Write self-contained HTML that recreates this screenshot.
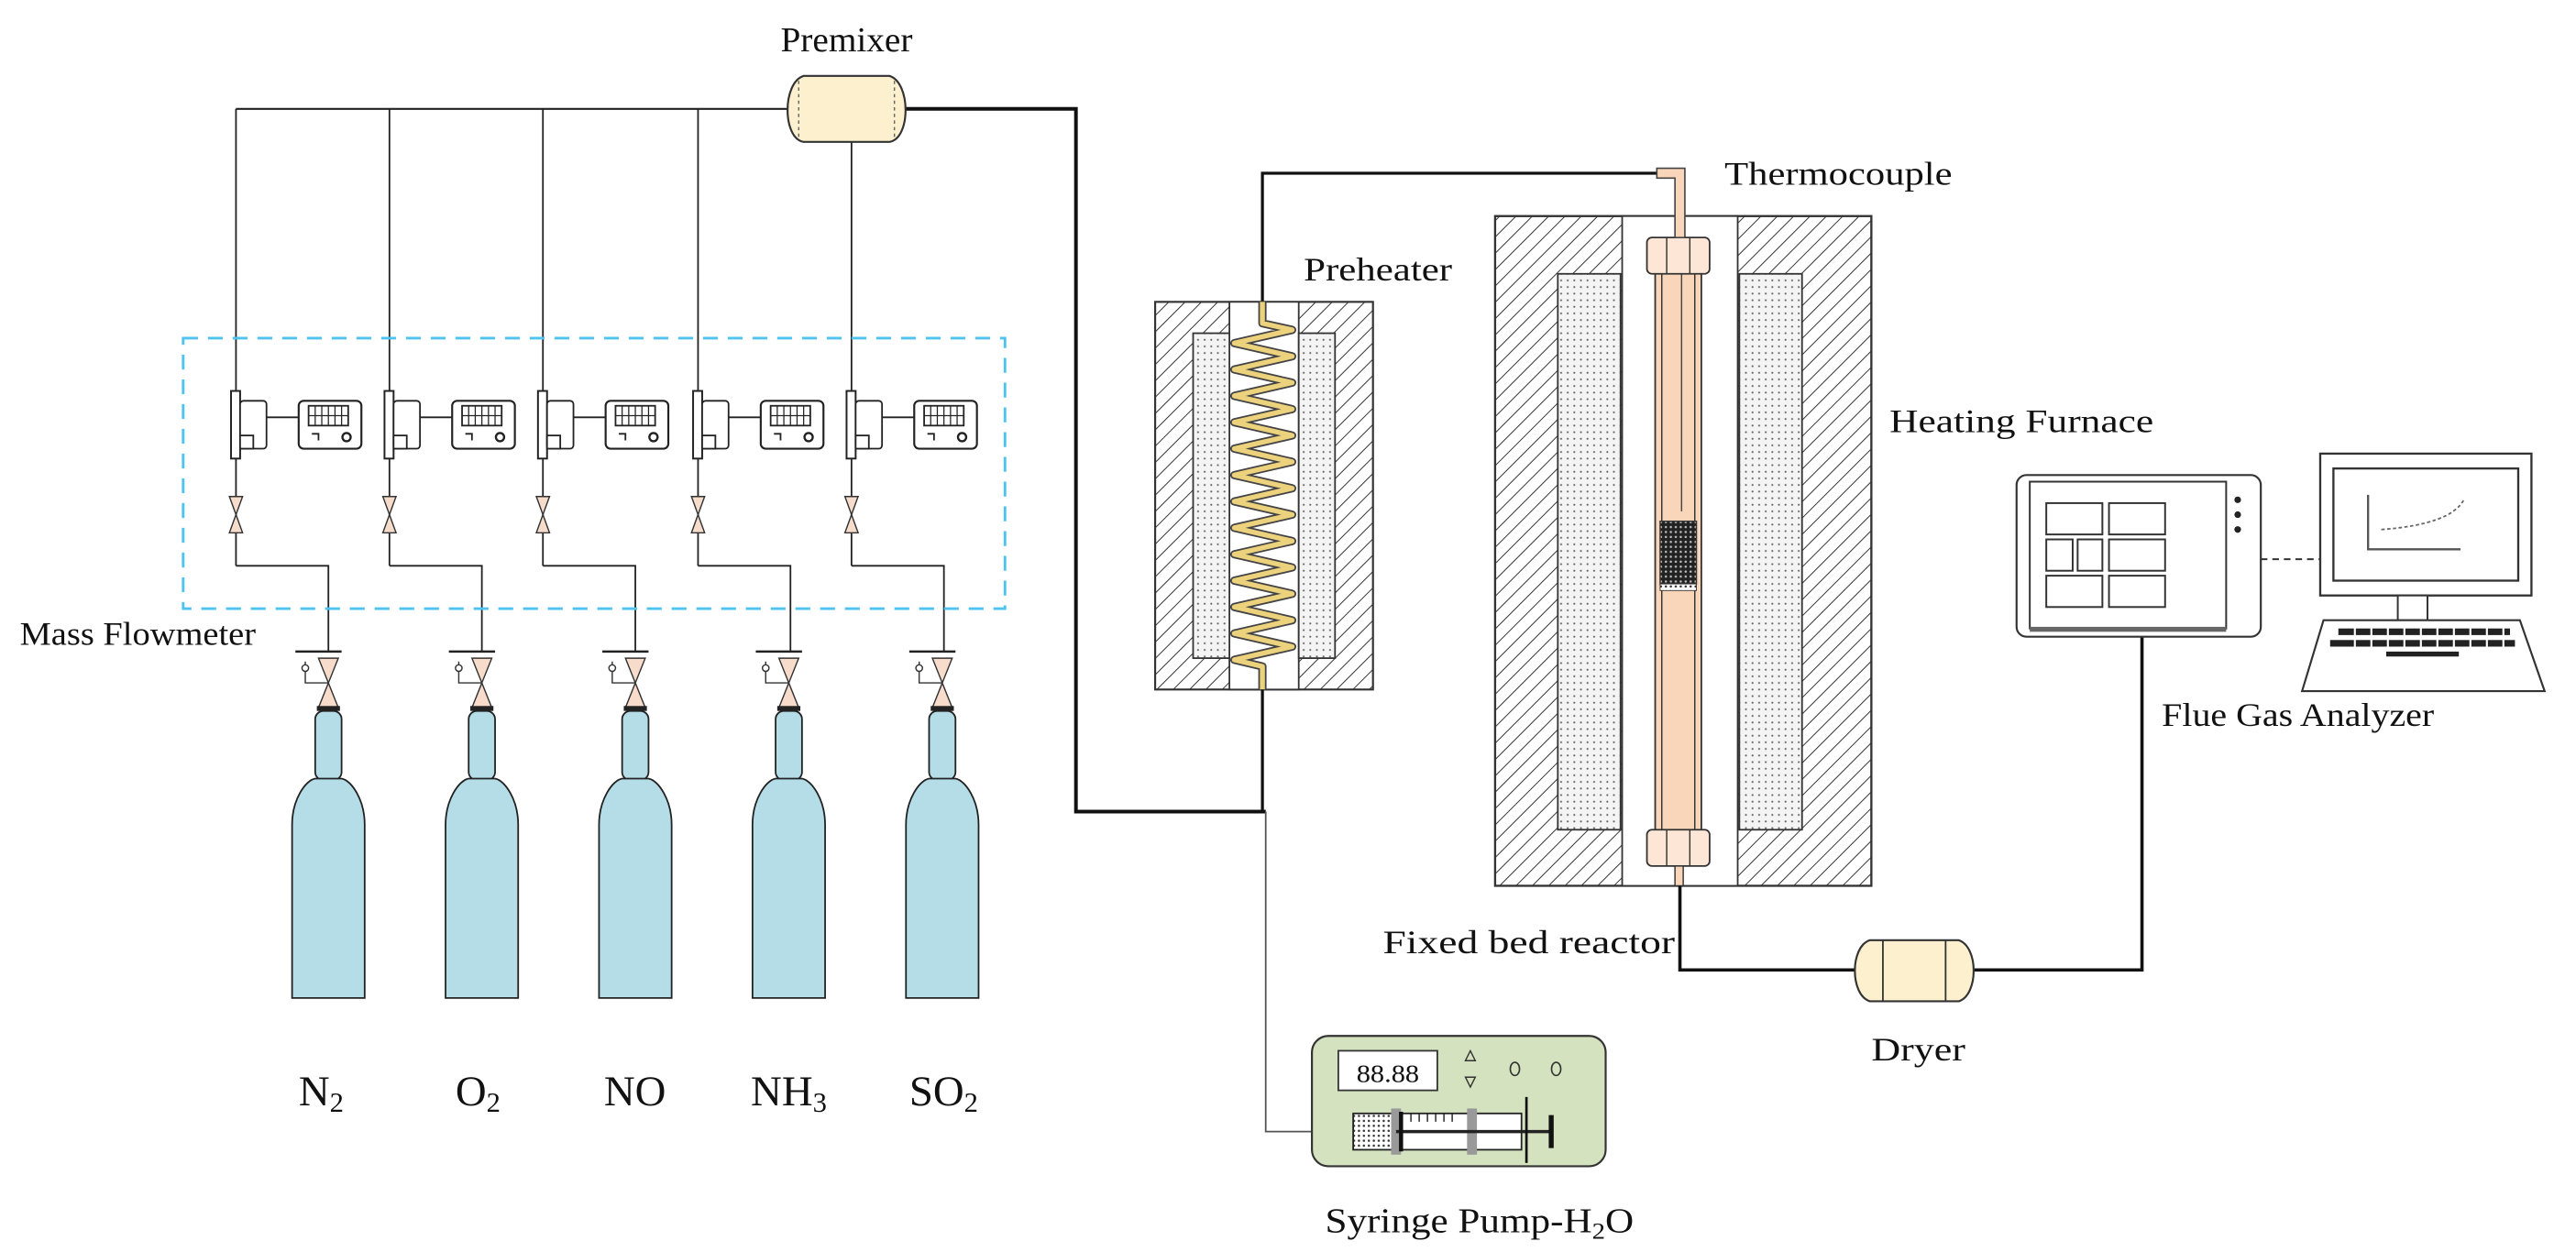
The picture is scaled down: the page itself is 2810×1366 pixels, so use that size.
<!DOCTYPE html>
<html><head><meta charset="utf-8"><style>
html,body{margin:0;padding:0;background:#fff;}
svg{display:block}
text{font-family:"Liberation Serif",serif;fill:#111;}
</style></head><body>
<svg width="2810" height="1366" viewBox="0 0 1561 759" preserveAspectRatio="none" xmlns="http://www.w3.org/2000/svg">
<defs>
<pattern id="hatch" width="7" height="7" patternUnits="userSpaceOnUse" patternTransform="rotate(45)">
<rect width="7" height="7" fill="#fff"/><line x1="0" y1="0" x2="0" y2="7" stroke="#333" stroke-width="1.1"/>
</pattern>
<pattern id="dots" width="4" height="4" patternUnits="userSpaceOnUse">
<rect width="4" height="4" fill="#f4f4f4"/><circle cx="2" cy="2" r="0.6" fill="#666"/>
</pattern>
<pattern id="cat" width="3" height="3" patternUnits="userSpaceOnUse">
<rect width="3" height="3" fill="#222"/><circle cx="1.5" cy="1.5" r="0.7" fill="#bbb"/>
</pattern>
<pattern id="sdots" width="3" height="3" patternUnits="userSpaceOnUse">
<rect width="3" height="3" fill="#fff"/><circle cx="1.5" cy="1.5" r="0.7" fill="#333"/>
</pattern>
<g id="mfc">
<line x1="0" y1="66" x2="0" y2="237" stroke="#222" stroke-width="1"/>
<rect x="-3" y="237" width="5.5" height="41" fill="#fff" stroke="#222" stroke-width="1.1"/>
<rect x="2.5" y="243" width="16" height="29" rx="2" fill="#fff" stroke="#222" stroke-width="1"/>
<rect x="2.5" y="264" width="8" height="8" fill="#fff" stroke="#222" stroke-width="1"/>
<line x1="18.5" y1="253" x2="38" y2="253" stroke="#222" stroke-width="1"/>
<rect x="38" y="243" width="38" height="29" rx="3" fill="#fff" stroke="#222" stroke-width="1.2"/>
<rect x="44" y="246" width="24" height="12" fill="#fff" stroke="#222" stroke-width="1"/>
<path d="M48 246v12M52 246v12M56 246v12M60 246v12M64 246v12M44 252h24" stroke="#222" stroke-width="0.7"/>
<path d="M46 263h4v4" stroke="#222" stroke-width="1" fill="none"/>
<circle cx="67" cy="265" r="2.5" fill="none" stroke="#222" stroke-width="1.3"/>
<line x1="0" y1="278" x2="0" y2="343" stroke="#222" stroke-width="1"/>
<path d="M-4 301h8l-4 11zM-4 323h8l-4 -11z" fill="#f5dccb" stroke="#333" stroke-width="0.8"/>
<path d="M0 343H56V395" stroke="#222" stroke-width="1" fill="none"/>
</g>
<g id="cyl">
<line x1="-20" y1="395" x2="8" y2="395" stroke="#222" stroke-width="1.4"/>
<path d="M-6 399h12l-6 15zM-6 429h12l-6 -15z" fill="#f7dccc" stroke="#333" stroke-width="0.8"/>
<path d="M0 414H-14V401" stroke="#333" stroke-width="0.8" fill="none"/>
<circle cx="-14" cy="405" r="2" fill="#fff" stroke="#333" stroke-width="0.8"/>
<rect x="-7" y="428" width="14" height="3" fill="#222"/>
<rect x="-8" y="431" width="16" height="42" rx="5" fill="#b5dde8" stroke="#222" stroke-width="1"/>
<path d="M-22 605V500C-22 485 -14 473 -8 472H8C14 473 22 485 22 500V605Z" fill="#b5dde8" stroke="#222" stroke-width="1"/>
</g>
</defs>

<line x1="143" y1="66" x2="480" y2="66" stroke="#222" stroke-width="1.2"/>
<path d="M546 66H652V492H767" stroke="#111" stroke-width="2.2" fill="none"/>
<use href="#mfc" x="143" y="0"/>
<use href="#mfc" x="236" y="0"/>
<use href="#mfc" x="329" y="0"/>
<use href="#mfc" x="423" y="0"/>
<use href="#mfc" x="516" y="0"/>
<path d="M487 46H539C552 50 552 84 539 86H487C474 84 474 50 487 46Z" fill="#fdf0cf" stroke="#333" stroke-width="1.2"/>
<line x1="484" y1="49" x2="484" y2="83" stroke="#666" stroke-width="0.8" stroke-dasharray="2,2"/>
<line x1="542" y1="49" x2="542" y2="83" stroke="#666" stroke-width="0.8" stroke-dasharray="2,2"/>
<text x="473" y="31" font-size="21" textLength="80" lengthAdjust="spacingAndGlyphs">Premixer</text>

<rect x="111" y="205" width="498" height="164" fill="none" stroke="#4fc3f0" stroke-width="1.6" stroke-dasharray="9,6"/>
<text x="12" y="391" font-size="20" textLength="143" lengthAdjust="spacingAndGlyphs">Mass Flowmeter</text>

<use href="#cyl" x="199"/><use href="#cyl" x="292"/><use href="#cyl" x="385"/><use href="#cyl" x="478"/><use href="#cyl" x="571"/>
<g font-size="26">
<text x="181" y="670">N<tspan font-size="17" dy="4">2</tspan></text>
<text x="276" y="670">O<tspan font-size="17" dy="4">2</tspan></text>
<text x="366" y="670">NO</text>
<text x="455" y="670">NH<tspan font-size="17" dy="4">3</tspan></text>
<text x="551" y="670">SO<tspan font-size="17" dy="4">2</tspan></text>
</g>

<path d="M765 183V105H1005" stroke="#111" stroke-width="1.8" fill="none"/>
<rect x="700" y="183" width="132" height="235" fill="url(#hatch)" stroke="#333" stroke-width="1.2"/>
<rect x="745" y="183" width="42" height="235" fill="#fff" stroke="#333" stroke-width="1"/>
<rect x="723" y="202" width="22" height="197" fill="url(#dots)" stroke="#333" stroke-width="1"/>
<rect x="787" y="202" width="22" height="197" fill="url(#dots)" stroke="#333" stroke-width="1"/>
<path d="M765 183V196 L783 200 L748 208 L783 216 L748 224 L783 232 L748 240 L783 248 L748 256 L783 264 L748 272 L783 280 L748 288 L783 296 L748 304 L783 312 L748 320 L783 328 L748 336 L783 344 L748 352 L783 360 L748 368 L783 376 L748 384 L783 392 L748 400 L765 404V418" stroke="#444" stroke-width="5" fill="none" stroke-linejoin="round"/>
<path d="M765 183V196 L783 200 L748 208 L783 216 L748 224 L783 232 L748 240 L783 248 L748 256 L783 264 L748 272 L783 280 L748 288 L783 296 L748 304 L783 312 L748 320 L783 328 L748 336 L783 344 L748 352 L783 360 L748 368 L783 376 L748 384 L783 392 L748 400 L765 404V418" stroke="#ecd27c" stroke-width="3" fill="none" stroke-linejoin="round"/>
<line x1="765" y1="418" x2="765" y2="492" stroke="#111" stroke-width="1.8"/>
<path d="M767 492V686H820" stroke="#555" stroke-width="1" fill="none"/>
<text x="790" y="170" font-size="20" textLength="90" lengthAdjust="spacingAndGlyphs">Preheater</text>

<rect x="906" y="131" width="228" height="406" fill="url(#hatch)" stroke="#333" stroke-width="1.3"/>
<rect x="983" y="131" width="70" height="406" fill="#fff" stroke="#333" stroke-width="1"/>
<rect x="944" y="166" width="38" height="337" fill="url(#dots)" stroke="#333" stroke-width="1"/>
<rect x="1054" y="166" width="38" height="337" fill="url(#dots)" stroke="#333" stroke-width="1"/>
<rect x="1003" y="164" width="28" height="341" fill="#f9d5b9" stroke="#333" stroke-width="1"/>
<line x1="1007" y1="164" x2="1007" y2="505" stroke="#333" stroke-width="0.8"/>
<line x1="1027" y1="164" x2="1027" y2="505" stroke="#333" stroke-width="0.8"/>
<line x1="1019" y1="140" x2="1019" y2="310" stroke="#444" stroke-width="0.8"/>
<rect x="1006" y="316" width="22" height="38" fill="url(#cat)" stroke="#333" stroke-width="0.8"/>
<rect x="1006" y="354" width="22" height="4" fill="url(#sdots)" stroke="#333" stroke-width="0.5"/>
<rect x="998" y="144" width="38" height="22" rx="3" fill="#fde6d6" stroke="#333" stroke-width="1"/>
<line x1="1010" y1="144" x2="1010" y2="166" stroke="#333" stroke-width="0.8"/>
<line x1="1024" y1="144" x2="1024" y2="166" stroke="#333" stroke-width="0.8"/>
<rect x="998" y="503" width="38" height="22" rx="3" fill="#fde6d6" stroke="#333" stroke-width="1"/>
<line x1="1010" y1="503" x2="1010" y2="525" stroke="#333" stroke-width="0.8"/>
<line x1="1024" y1="503" x2="1024" y2="525" stroke="#333" stroke-width="0.8"/>
<rect x="1015" y="525" width="5" height="12" fill="#f9d5b9" stroke="#333" stroke-width="0.8"/>
<path d="M1004 102H1021V144H1015V108H1004Z" fill="#f9d5b9" stroke="#444" stroke-width="0.9"/>
<text x="1045" y="112" font-size="20" textLength="138" lengthAdjust="spacingAndGlyphs">Thermocouple</text>
<text x="1145" y="262" font-size="20" textLength="160" lengthAdjust="spacingAndGlyphs">Heating Furnace</text>
<text x="838" y="578" font-size="20" textLength="177" lengthAdjust="spacingAndGlyphs">Fixed bed reactor</text>

<path d="M1018 537V588H1125M1195 588H1298V386" stroke="#111" stroke-width="2" fill="none"/>
<path d="M1133 570H1187C1199 574 1199 603 1187 607H1133C1121 603 1121 574 1133 570Z" fill="#fdf0cf" stroke="#333" stroke-width="1.2"/>
<line x1="1141" y1="570" x2="1141" y2="607" stroke="#333" stroke-width="1"/>
<line x1="1179" y1="570" x2="1179" y2="607" stroke="#333" stroke-width="1"/>
<text x="1134" y="643" font-size="20" textLength="57" lengthAdjust="spacingAndGlyphs">Dryer</text>

<rect x="1222" y="288" width="148" height="98" rx="6" fill="#fff" stroke="#333" stroke-width="1.2"/>
<rect x="1230" y="292" width="119" height="89" fill="#fff" stroke="#333" stroke-width="1.1"/>
<rect x="1230" y="380" width="119" height="3" fill="#666"/>
<g fill="none" stroke="#333" stroke-width="1.1">
<rect x="1240" y="305" width="34" height="19"/><rect x="1278" y="305" width="34" height="19"/>
<rect x="1240" y="327" width="16" height="19"/><rect x="1259" y="327" width="15" height="19"/><rect x="1278" y="327" width="34" height="19"/>
<rect x="1240" y="349" width="34" height="19"/><rect x="1278" y="349" width="34" height="19"/>
</g>
<circle cx="1356" cy="303" r="2" fill="#222"/><circle cx="1356" cy="312" r="2" fill="#222"/><circle cx="1356" cy="321" r="2" fill="#222"/>
<line x1="1370" y1="339" x2="1406" y2="339" stroke="#333" stroke-width="1.1" stroke-dasharray="4,3"/>
<rect x="1406" y="275" width="128" height="86" fill="#fff" stroke="#333" stroke-width="1.3"/>
<rect x="1414" y="284" width="112" height="68" fill="#fff" stroke="#333" stroke-width="1.3"/>
<path d="M1435 300V333H1491" stroke="#555" stroke-width="1.3" fill="none"/>
<path d="M1443 321Q1485 318 1493 303" stroke="#666" stroke-width="1" stroke-dasharray="2,1.5" fill="none"/>
<rect x="1453" y="361" width="18" height="15" fill="#fff" stroke="#333" stroke-width="1.1"/>
<path d="M1408 376H1527L1542 419H1395Z" fill="#fff" stroke="#333" stroke-width="1.2"/>
<g fill="#222">
<rect x="1417" y="381" width="104" height="4" />
<rect x="1412" y="388" width="112" height="4"/>
<rect x="1446" y="395" width="44" height="3"/>
</g>
<g stroke="#fff" stroke-width="1.2">
<path d="M1427 380v13M1437 380v13M1447 380v13M1457 380v13M1467 380v13M1477 380v13M1487 380v13M1497 380v13M1507 380v13M1517 380v13"/>
</g>
<text x="1310" y="440" font-size="20" textLength="165" lengthAdjust="spacingAndGlyphs">Flue Gas Analyzer</text>

<rect x="795" y="628" width="178" height="79" rx="10" fill="#d5e2bf" stroke="#333" stroke-width="1.2"/>
<rect x="811" y="637" width="60" height="24" fill="#fff" stroke="#333" stroke-width="1"/>
<text x="822" y="656" font-size="15" textLength="38" lengthAdjust="spacingAndGlyphs">88.88</text>
<path d="M888 643h6l-3 -6zM888 653h6l-3 6z" fill="none" stroke="#333" stroke-width="0.8"/>
<ellipse cx="918" cy="648" rx="2.8" ry="4" fill="none" stroke="#333" stroke-width="0.9"/>
<ellipse cx="943" cy="648" rx="2.8" ry="4" fill="none" stroke="#333" stroke-width="0.9"/>
<rect x="820" y="675" width="26" height="22" fill="url(#sdots)" stroke="#222" stroke-width="1"/>
<rect x="846" y="675" width="76" height="22" fill="#fff" stroke="#222" stroke-width="1"/>
<rect x="843" y="672" width="6" height="28" fill="#999"/>
<rect x="889" y="672" width="6" height="28" fill="#999"/>
<line x1="846" y1="686" x2="940" y2="686" stroke="#222" stroke-width="2"/>
<path d="M855 675v5M860 675v5M865 675v5M870 675v5M875 675v5M880 675v5" stroke="#222" stroke-width="0.8"/>
<line x1="849" y1="674" x2="849" y2="698" stroke="#111" stroke-width="2.5"/>
<line x1="925" y1="665" x2="925" y2="705" stroke="#111" stroke-width="1.5"/>
<line x1="940" y1="676" x2="940" y2="696" stroke="#111" stroke-width="3"/>
<text x="803" y="747" font-size="21" textLength="187" lengthAdjust="spacingAndGlyphs">Syringe Pump-H<tspan font-size="14" dy="4">2</tspan><tspan dy="-4">O</tspan></text>
</svg>
</body></html>
